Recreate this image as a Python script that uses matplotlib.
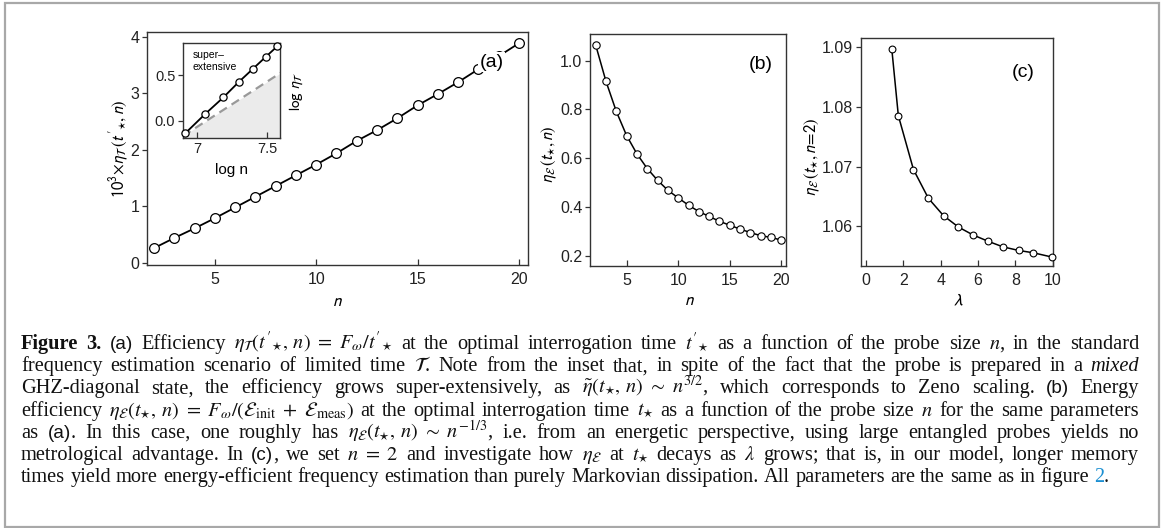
import numpy as np
import matplotlib
matplotlib.use('Agg')
import matplotlib.pyplot as plt
from matplotlib.patches import Rectangle

W, H = 1168, 528

# ---------------- data ----------------
n_a = list(range(2, 21))
eta_T = [0.26, 0.44, 0.61, 0.79, 0.98, 1.17, 1.36, 1.55, 1.74, 1.94,
         2.16, 2.35, 2.56, 2.79, 2.99, 3.20, 3.43, 3.66, 3.89]
log_n_inset = [6.916, 7.057, 7.188, 7.298, 7.398, 7.491, 7.574]
log_eta_inset = [-0.14, 0.071, 0.256, 0.426, 0.570, 0.704, 0.822]
ref_x = [6.90, 7.60]
ref_y = [-0.17, 0.53]
n_b = list(range(2, 21))
eta_E = [1.064, 0.915, 0.792, 0.693, 0.618, 0.558, 0.510, 0.469, 0.438, 0.408,
         0.382, 0.362, 0.342, 0.326, 0.310, 0.296, 0.283, 0.276, 0.265]
lam = [1.38, 1.73, 2.54, 3.34, 4.15, 4.95, 5.72, 6.56, 7.33, 8.17, 8.97, 9.95]
eta_E_lam = [1.0896, 1.0785, 1.0695, 1.0647, 1.0618, 1.0599, 1.0586, 1.0575,
             1.0566, 1.0560, 1.0556, 1.0549]

xticks_a = [5, 10, 15, 20]
yticks_a = [0, 1, 2, 3, 4]
xticks_in = [7, 7.5]
yticks_in = [0.0, 0.5]
xticks_b = [5, 10, 15, 20]
yticks_b = [0.2, 0.4, 0.6, 0.8, 1.0]
xticks_c = [0, 2, 4, 6, 8, 10]
yticks_c = [1.06, 1.07, 1.08, 1.09]

plt.rcParams['font.family'] = ['Liberation Sans', 'DejaVu Sans']
plt.rcParams['mathtext.fontset'] = 'stixsans'

fig = plt.figure(figsize=(W / 100, H / 100), dpi=100)


def ax_px(l, t, r, b):
    return fig.add_axes([l / W, 1 - b / H, (r - l) / W, (b - t) / H])


SPINE = '#333333'
TICK_FS = 11.5


def style(ax, ls=TICK_FS):
    for s in ax.spines.values():
        s.set_color(SPINE)
        s.set_linewidth(1.0)
    ax.tick_params(axis='both', which='both', top=False, right=False,
                   length=4, width=0.9, color=SPINE,
                   labelsize=ls, labelcolor='#222222')
    ax.tick_params(axis='x', direction='in', pad=5)
    ax.tick_params(axis='y', direction='out', length=3.5, pad=2)


# ---------------- panel (a) ----------------
axa = ax_px(147, 32, 528, 265)
axa.plot(n_a, eta_T, '-', color='black', lw=1.3, marker='o', ms=7,
         mfc='white', mec='black', mew=0.9, clip_on=False, zorder=3)
axa.set_xlim(1.65, 20.45)
axa.set_ylim(-0.04, 4.09)
axa.set_xticks(xticks_a)
axa.set_yticks(yticks_a)
style(axa)
axa.set_xlabel(r'$n$', fontsize=12.5, va='center')
axa.xaxis.set_label_coords(0.5, -0.155)
axa.set_ylabel(r"$10^3\!\times\!\eta_{\mathcal{T}}\,({t'}_{\star},n)$", fontsize=12,
               va='center')
axa.yaxis.set_label_coords(-0.076, 0.5)
axa.text(0.905, 0.87, '(a)', transform=axa.transAxes, fontsize=14,
         ha='center', va='center', zorder=5,
         bbox=dict(facecolor='white', edgecolor='none', pad=1.0))

# inset
axi = ax_px(183, 42.5, 280, 138)
axi.fill_between(ref_x, ref_y, -1, color='#ebebeb', zorder=1, lw=0)
axi.plot(ref_x, ref_y, '--', color='#999999', lw=1.6, dashes=(4, 2.5), zorder=2)
axi.plot(log_n_inset, log_eta_inset, '-', color='black', lw=1.3, marker='o',
         ms=5.2, mfc='white', mec='black', mew=0.9, clip_on=False, zorder=3)
axi.set_xlim(6.9, 7.593)
axi.set_ylim(-0.192, 0.863)
axi.set_xticks(xticks_in)
axi.set_xticklabels(['7', '7.5'])
axi.set_yticks(yticks_in)
axi.set_yticklabels(['0.0', '0.5'])
style(axi, ls=10.5)
axi.tick_params(axis='x', pad=3)
axi.set_xlabel('log n', fontsize=11, va='center')
axi.xaxis.set_label_coords(0.505, -0.33)
axi.set_ylabel(r'$\log\,\eta_{\mathcal{T}}$', fontsize=11, va='center')
axi.yaxis.set_label_coords(1.17, 0.49)
axi.text(0.1, 0.92, 'super\u2013\nextensive', transform=axi.transAxes,
         fontsize=7.5, ha='left', va='top', linespacing=1.2)

# ---------------- panel (b) ----------------
axb = ax_px(590, 34, 786, 266)
axb.plot(n_b, eta_E, '-', color='black', lw=1.1, marker='o', ms=5.3,
         mfc='white', mec='black', mew=0.8, clip_on=False, zorder=3)
axb.set_xlim(1.45, 20.45)
axb.set_ylim(0.159, 1.109)
axb.set_xticks(xticks_b)
axb.set_yticks(yticks_b)
axb.set_yticklabels(['0.2', '0.4', '0.6', '0.8', '1.0'])
style(axb)
axb.set_xlabel(r'$n$', fontsize=12.5, va='center')
axb.xaxis.set_label_coords(0.505, -0.15)
axb.set_ylabel(r'$\eta_{\mathcal{E}}\,(t_{\star},n)$', fontsize=12, va='center')
axb.yaxis.set_label_coords(-0.21, 0.48)
axb.text(0.87, 0.87, '(b)', transform=axb.transAxes, fontsize=14,
         ha='center', va='center')

# ---------------- panel (c) ----------------
axc = ax_px(861, 38.3, 1052.7, 266)
axc.plot(lam, eta_E_lam, '-', color='black', lw=1.1, marker='o', ms=4.9,
         mfc='white', mec='black', mew=0.8, clip_on=False, zorder=3)
axc.set_xlim(-0.27, 10.0)
axc.set_ylim(1.0534, 1.0914)
axc.set_xticks(xticks_c)
axc.set_yticks(yticks_c)
axc.set_yticklabels(['1.06', '1.07', '1.08', '1.09'])
style(axc)
axc.set_xlabel(r'$\lambda$', fontsize=12.5, va='center')
axc.xaxis.set_label_coords(0.506, -0.15)
axc.set_ylabel(r'$\eta_{\mathcal{E}}\,(t_{\star},n\!=\!2)$', fontsize=12, va='center')
axc.yaxis.set_label_coords(-0.26, 0.48)
axc.text(0.845, 0.85, '(c)', transform=axc.transAxes, fontsize=14,
         ha='center', va='center')

# ---------------- outer frame ----------------
fig.patches.append(Rectangle((5 / W, 1 - 527 / H), (1159 - 5) / W, (527 - 3) / H,
                             transform=fig.transFigure, fill=False,
                             edgecolor='#a8a8a8', lw=1.6, zorder=0))

# ---------------- caption ----------------
R, B, I, S, L = 'r', 'b', 'i', 's', 'l'
caption = [
    [("Figure 3.", B), (" ", R), ("(a)", S),
     (r" Efficiency $\eta_{\mathcal{T}}({t'}_{\star},\,n)\ =\ F_{\omega}/{t'}_{\star}$ at the optimal interrogation time ${t'}_{\star}$ as a function of the probe size $n$, in the standard", R)],
    [(r"frequency estimation scenario of limited time $\mathcal{T}$. Note from the inset that, in spite of the fact that the probe is prepared in a ", R),
     ("mixed", I)],
    [(r"GHZ-diagonal state, the efficiency grows super-extensively, as $\tilde{\eta}(t_{\star},\,n)\ \sim\ n^{3/2}$, which corresponds to Zeno scaling. ", R),
     ("(b)", S), (" Energy", R)],
    [(r"efficiency $\eta_{\mathcal{E}}(t_{\star},\,n)\ =\ F_{\omega}/(\mathcal{E}_{\rm init}\ +\ \mathcal{E}_{\rm meas})$ at the optimal interrogation time $t_{\star}$ as a function of the probe size $n$ for the same parameters", R)],
    [("as ", R), ("(a)", S),
     (r". In this case, one roughly has $\eta_{\mathcal{E}}(t_{\star},\,n)\ \sim\ n^{-1/3}$, i.e. from an energetic perspective, using large entangled probes yields no", R)],
    [("metrological advantage. In ", R), ("(c)", S),
     (r", we set $n\ =\ 2$ and investigate how $\eta_{\mathcal{E}}$ at $t_{\star}$ decays as $\lambda$ grows; that is, in our model, longer memory", R)],
    [("times yield more energy-efficient frequency estimation than purely Markovian dissipation. All parameters are the same as in figure ", R),
     ("2", L), (".", R)],
]

X0, X1 = 21, 1139
LAST_END = 1105
Y_BASE0, DY = 349, 22.2


def words_of(line):
    words, cur = [], []
    for text, st in line:
        buf, inmath = '', False
        for ch in text:
            if ch == '$':
                inmath = not inmath
                buf += ch
            elif ch == ' ' and not inmath:
                if buf:
                    cur.append((buf, st))
                    buf = ''
                if cur:
                    words.append(cur)
                    cur = []
            else:
                buf += ch
        if buf:
            cur.append((buf, st))
    if cur:
        words.append(cur)
    return words


def mk(x, y, s, st, fs):
    kw = dict(fontsize=fs, va='baseline', ha='left', transform=fig.transFigure,
              math_fontfamily='stix', color='#111111')
    if st == S:
        kw['family'] = ['Liberation Sans', 'DejaVu Sans']
        kw['fontsize'] = fs * 0.93
    else:
        kw['family'] = ['Liberation Serif', 'DejaVu Serif']
    if st == B:
        kw['fontweight'] = 'bold'
    if st == I:
        kw['fontstyle'] = 'italic'
    if st == L:
        kw['color'] = '#1b8fd2'
    return fig.text(x / W, 1 - y / H, s, **kw)


renderer = fig.canvas.get_renderer()


def build(words, y, fs):
    placed = []
    for w in words:
        segs = []
        for s, st in w:
            t = mk(0, y, s, st, fs)
            wd = t.get_window_extent(renderer).width
            segs.append((t, wd))
        placed.append(segs)
    return placed


def natural_width(words, fs):
    placed = build(words, 0, fs)
    tot = sum(wd for segs in placed for _, wd in segs)
    for segs in placed:
        for t, _ in segs:
            t.remove()
    return tot + (len(words) - 1) * fs * 100 / 72 * 0.25


all_words = [words_of(l) for l in caption]
base = 12.0
wl = natural_width(all_words[-1], base)
CAP_FS = base * (LAST_END - X0) / wl

for li, words in enumerate(all_words):
    y = Y_BASE0 + li * DY
    fs = CAP_FS
    last = li == len(all_words) - 1
    if not last:
        nw = natural_width(words, fs)
        min_need = nw - (len(words) - 1) * fs * 100 / 72 * 0.25 + (len(words) - 1) * fs * 100 / 72 * 0.16
        if min_need > (X1 - X0):
            fs = fs * (X1 - X0) / min_need
    placed = build(words, y, fs)
    widths = [sum(wd for _, wd in segs) for segs in placed]
    if not last and len(placed) > 1:
        gap = (X1 - X0 - sum(widths)) / (len(placed) - 1)
    else:
        gap = fs * 100 / 72 * 0.25
    x = X0
    for segs, wsum in zip(placed, widths):
        xx = x
        for t, wd in segs:
            t.set_x(xx / W)
            xx += wd
        x += wsum + gap

fig.savefig('out.png', dpi=100)
